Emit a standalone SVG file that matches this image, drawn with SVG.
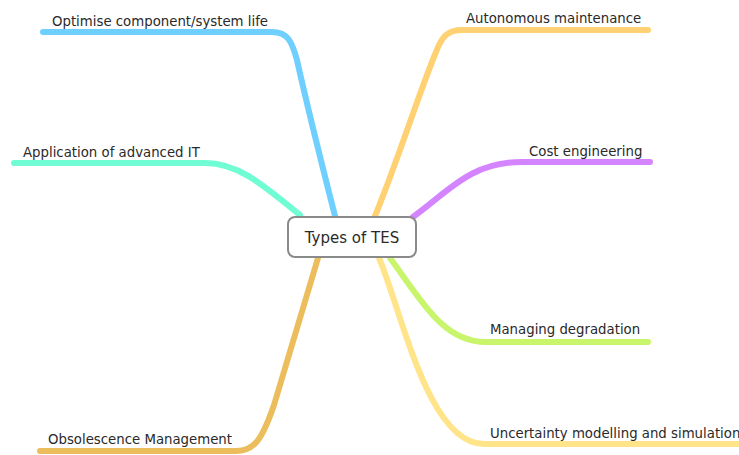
<svg xmlns="http://www.w3.org/2000/svg" width="739" height="455" viewBox="0 0 739 455">
  <style>
    .branch { fill: none; stroke-width: 6; stroke-linecap: round; stroke-linejoin: round; }
    .label { font-family: "DejaVu Sans", "Liberation Sans", sans-serif; font-size: 13.3px; fill: #2a2a2a; }
    .root-box { fill: #fff; stroke: #8a8a8a; stroke-width: 2; }
    .root-text { font-family: "DejaVu Sans", "Liberation Sans", sans-serif; font-size: 15px; fill: #2a2a2a; text-anchor: middle; }
  </style>
  <rect width="739" height="455" fill="#fff"/>

  <!-- branches from the central topic -->
  <g id="connectors">
    <path class="branch" stroke="#6fcfff" d="M43,32 H272 C288,32 292,42 297,60 C308,110 322,165 335,216"/>
    <path class="branch" stroke="#ffd173" d="M375,216 C398,160 420,90 436,52 C442,36 448,30 462,30 H648"/>
    <path class="branch" stroke="#70fdd4" d="M14,163 H205 C238,163 262,184 300,215"/>
    <path class="branch" stroke="#d584ff" d="M413,217 C448,192 470,162 522,162 H650"/>
    <path class="branch" stroke="#c9f56c" d="M390,258 C420,298 442,342 486,342 H648"/>
    <path class="branch" stroke="#ffe48a" d="M379,258 C402,312 428,444 484,444 H738"/>
    <path class="branch" stroke="#ebbd5c" d="M40,451 H236 C254,451 262,440 274,405 L318,258"/>
  </g>

  <g id="root">
    <rect class="root-box" x="288" y="217" width="128" height="40" rx="7" ry="7"/>
    <text class="root-text" x="352" y="243">Types of TES</text>
  </g>

  <g id="node-optimise"><text class="label" x="52" y="26">Optimise component/system life</text></g>
  <g id="node-autonomous"><text class="label" x="466" y="23">Autonomous maintenance</text></g>
  <g id="node-advanced-it"><text class="label" x="23" y="157">Application of advanced IT</text></g>
  <g id="node-cost"><text class="label" x="529" y="156">Cost engineering</text></g>
  <g id="node-degradation"><text class="label" x="490" y="334">Managing degradation</text></g>
  <g id="node-uncertainty"><text class="label" x="490" y="438">Uncertainty modelling and simulation</text></g>
  <g id="node-obsolescence"><text class="label" x="48" y="444">Obsolescence Management</text></g>
</svg>
